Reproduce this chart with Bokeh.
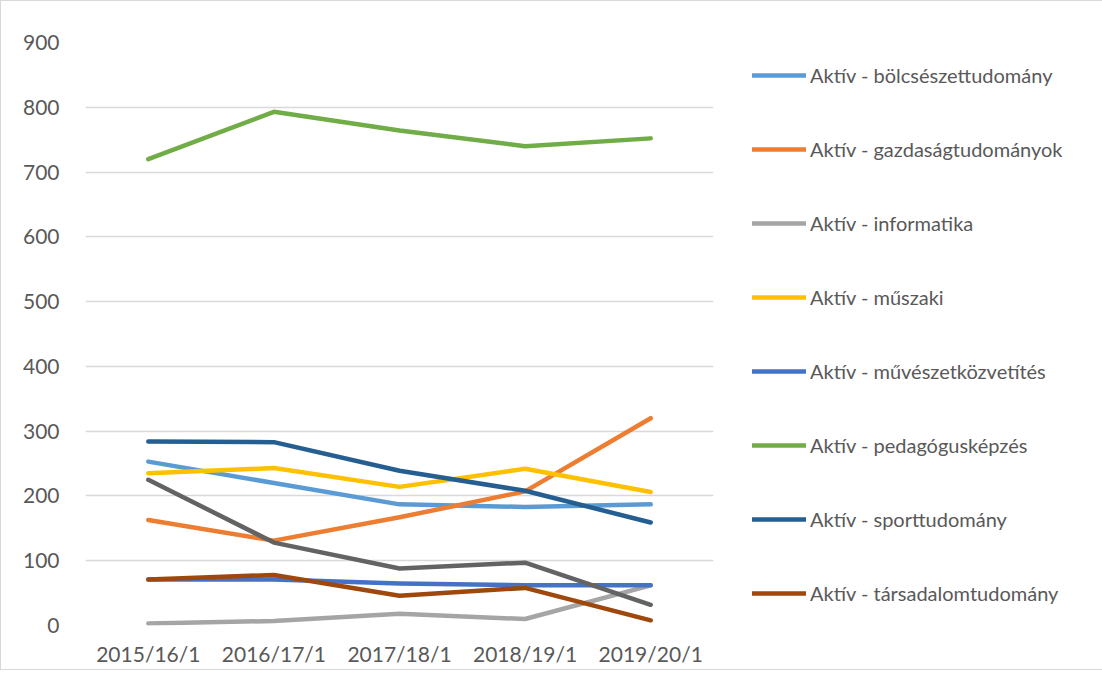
from bokeh.plotting import figure
from bokeh.models import Legend, LegendItem, FixedTicker, Range1d, FactorRange
from bokeh.embed import file_html
from bokeh.resources import INLINE

categories = ["2015/16/1", "2016/17/1", "2017/18/1", "2018/19/1", "2019/20/1"]

bolcsesz = [253, 220, 187, 183, 187]
gazdasag = [163, 131, 167, 207, 320]
informatika = [3, 7, 18, 10, 62]
muszaki = [235, 243, 214, 242, 206]
muveszet = [71, 71, 65, 62, 62]
pedagogus = [720, 793, 764, 740, 752]
sport = [284, 283, 239, 208, 159]
tarsadalom = [71, 78, 46, 58, 8]
egyeb = [225, 128, 88, 97, 32]

series_names = [
    "Aktív - bölcsészettudomány",
    "Aktív - gazdaságtudományok",
    "Aktív - informatika",
    "Aktív - műszaki",
    "Aktív - művészetközvetítés",
    "Aktív - pedagógusképzés",
    "Aktív - sporttudomány",
    "Aktív - társadalomtudomány",
    "Aktív - egyéb",
]
series_values = [bolcsesz, gazdasag, informatika, muszaki, muveszet, pedagogus, sport, tarsadalom, egyeb]
colors = ["#5B9BD5", "#ED7D31", "#A5A5A5", "#FFC000", "#4472C4", "#70AD47", "#255E91", "#9E480E", "#636363"]
in_legend = [True] * 8 + [False]

FONT = "Lato"
TXT = "#595959"

p = figure(
    frame_width=628, frame_height=583,
    x_range=FactorRange(*categories, range_padding=0),
    y_range=Range1d(0, 900),
    output_backend="svg", toolbar_location=None,
    min_border_left=84, min_border_right=0, min_border_top=41, min_border_bottom=44,
)
p.styles = {"border": "1px solid #d9d9d9"}
p.outline_line_color = None
p.background_fill_color = "white"
p.border_fill_color = "white"

p.yaxis.ticker = FixedTicker(ticks=list(range(0, 1000, 100)))
p.yaxis.axis_line_color = None
p.yaxis.major_tick_line_color = None
p.yaxis.minor_tick_line_color = None
p.yaxis.major_label_text_font = FONT
p.yaxis.major_label_text_font_size = "21px"
p.yaxis.major_label_text_color = TXT
p.yaxis.major_label_standoff = 20

p.xaxis.axis_line_color = None
p.xaxis.major_tick_line_color = None
p.xaxis.minor_tick_line_color = None
p.xaxis.major_label_text_font = FONT
p.xaxis.major_label_text_font_size = "21px"
p.xaxis.major_label_text_color = TXT
p.xaxis.major_label_standoff = 9

p.xgrid.grid_line_color = None
p.ygrid.grid_line_color = "#d9d9d9"
p.ygrid.grid_line_width = 1.5

items = []
for name, vals, col, show in zip(series_names, series_values, colors, in_legend):
    r = p.line(categories, vals, line_color=col, line_width=4.5, line_cap="round", line_join="round")
    if show:
        items.append(LegendItem(label=name, renderers=[r]))

legend = Legend(items=items, location="left")
legend.border_line_color = None
legend.background_fill_alpha = 0
legend.padding = 0
legend.margin = 39
legend.spacing = 50
legend.glyph_width = 54
legend.glyph_height = 20
legend.label_height = 20
legend.label_standoff = 4
legend.label_text_font = FONT
legend.label_text_font_size = "20px"
legend.label_text_color = TXT
p.add_layout(legend, "right")

open("out.html", "w").write(file_html(p, INLINE))
